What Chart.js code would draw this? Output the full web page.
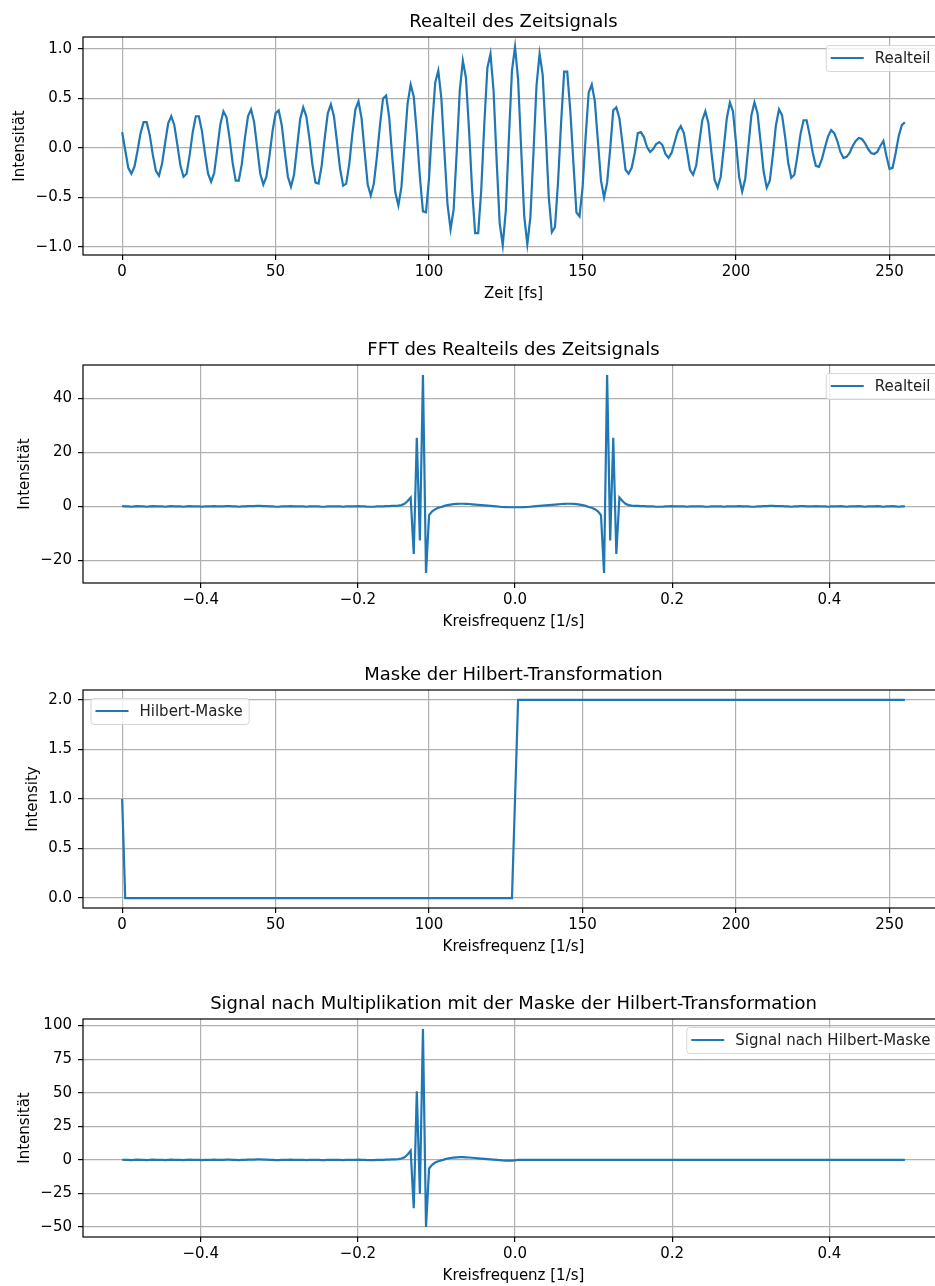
<!doctype html>
<html lang="de">
<head>
<meta charset="utf-8">
<title>Hilbert-Transformation</title>
<style>
  html, body { margin: 0; padding: 0; background: #fff; }
  #blatt { position: relative; width: 935px; height: 1286px; overflow: hidden; }
  #blatt canvas { position: absolute; left: 0; }
</style>
</head>
<body>
<div id="blatt">
  <canvas id="zeit" width="950" height="303" style="top:0px"></canvas>
  <canvas id="fft" width="950" height="303" style="top:328px"></canvas>
  <canvas id="maske" width="950" height="303" style="top:653px"></canvas>
  <canvas id="signal" width="950" height="303" style="top:982px"></canvas>
</div>

<script src="https://cdn.jsdelivr.net/npm/chart.js/dist/chart.umd.min.js"></script>
<script>
// Realteil des Zeitsignals, Abtastwerte 0..255
const realteil = [
  0.16, -0.02, -0.20, -0.26, -0.19, -0.03, 0.15, 0.26, 0.26, 0.13, -0.07, -0.23, -0.28, -0.16, 0.05, 0.25,
  0.32, 0.23, 0.03, -0.18, -0.29, -0.26, -0.07, 0.16, 0.32, 0.32, 0.17, -0.06, -0.26, -0.34, -0.25, -0.01,
  0.24, 0.37, 0.31, 0.10, -0.15, -0.33, -0.33, -0.16, 0.10, 0.32, 0.39, 0.26, 0.00, -0.26, -0.37, -0.29,
  -0.08, 0.17, 0.35, 0.38, 0.23, -0.04, -0.29, -0.39, -0.27, 0.01, 0.29, 0.41, 0.32, 0.10, -0.17, -0.35,
  -0.36, -0.18, 0.10, 0.35, 0.44, 0.32, 0.06, -0.21, -0.38, -0.36, -0.16, 0.14, 0.39, 0.47, 0.30, -0.04,
  -0.37, -0.48, -0.36, -0.09, 0.23, 0.50, 0.53, 0.31, -0.09, -0.45, -0.58, -0.39, 0.03, 0.45, 0.64, 0.52,
  0.15, -0.29, -0.64, -0.65, -0.30, 0.23, 0.66, 0.78, 0.50, -0.04, -0.57, -0.82, -0.62, -0.04, 0.58, 0.88,
  0.71, 0.19, -0.41, -0.86, -0.86, -0.42, 0.25, 0.81, 0.95, 0.58, -0.12, -0.76, -0.98, -0.63, 0.10, 0.78,
  1.02, 0.69, -0.01, -0.69, -0.97, -0.70, -0.05, 0.63, 0.95, 0.74, 0.15, -0.50, -0.85, -0.80, -0.35, 0.25,
  0.77, 0.77, 0.38, -0.14, -0.65, -0.69, -0.40, 0.11, 0.56, 0.64, 0.47, 0.07, -0.33, -0.50, -0.35, -0.01,
  0.38, 0.41, 0.30, 0.05, -0.22, -0.26, -0.20, -0.05, 0.15, 0.16, 0.11, 0.01, -0.04, -0.01, 0.04, 0.06,
  0.03, -0.06, -0.10, -0.05, 0.06, 0.17, 0.22, 0.15, -0.03, -0.22, -0.27, -0.18, 0.05, 0.28, 0.37, 0.25,
  -0.05, -0.32, -0.40, -0.29, 0.00, 0.30, 0.46, 0.37, 0.05, -0.29, -0.44, -0.31, 0.01, 0.33, 0.46, 0.35,
  0.06, -0.24, -0.40, -0.33, -0.07, 0.23, 0.39, 0.33, 0.11, -0.15, -0.30, -0.27, -0.08, 0.14, 0.28, 0.28,
  0.13, -0.05, -0.18, -0.19, -0.11, 0.01, 0.12, 0.18, 0.15, 0.07, -0.04, -0.10, -0.09, -0.05, 0.02, 0.07,
  0.10, 0.09, 0.05, -0.01, -0.05, -0.06, -0.04, 0.02, 0.07, -0.08, -0.21, -0.20, -0.05, 0.12, 0.23, 0.26
];

// Realteil der FFT, Frequenzen -0.5 .. 0.496 (k = -128 .. 127)
const fftReal = [
  // k = -128 .. -100
  0.1, 0.0, 0.0, -0.1, 0.0, 0.1, 0.0, 0.0, -0.1, 0.0, 0.1, 0.0, 0.0, 0.0, -0.1, 0.0, 0.1, 0.0, 0.0, 0.0,
  -0.1, 0.0, 0.1, 0.0, 0.0, 0.0, -0.1, 0.0, 0.0,
  // k = -99 .. -70
  0.0, 0.1, 0.0, 0.0, 0.0, 0.1, 0.1, 0.0, 0.0, -0.1, 0.0, 0.0, 0.1, 0.1, 0.1, 0.2, 0.2, 0.1, 0.1, 0.0,
  0.0, -0.1, -0.1, 0.0, 0.0, 0.0, 0.1, 0.0, 0.0, 0.0,
  // k = -69 .. -38
  0.0, -0.1, 0.0, 0.0, 0.0, 0.0, -0.1, -0.1, 0.0, 0.0, 0.0, 0.0, 0.0, -0.1, 0.0, 0.0, 0.0, 0.0, 0.1, 0.0,
  0.0, -0.1, -0.1, -0.1, 0.0, 0.0, 0.0, 0.1, 0.1, 0.2, 0.2, 0.3,
  // k = -37 .. -1
  0.5, 1.0, 2.0, 3.3, -17.6, 25.4, -12.6, 48.6, -24.6, -3.2, -1.8, -1.0, -0.5, -0.2, 0.2, 0.5, 0.7, 0.85, 0.95, 1.0,
  1.0, 0.95, 0.9, 0.8, 0.7, 0.6, 0.5, 0.4, 0.3, 0.2, 0.1, 0.0, -0.1, -0.2, -0.25, -0.3, -0.3,
  // k = 0
  -0.3,
  // k = 1 .. 37
  -0.3, -0.3, -0.25, -0.2, -0.1, 0.0, 0.1, 0.2, 0.3, 0.4, 0.5, 0.6, 0.7, 0.8, 0.9, 0.95, 1.0, 1.0, 0.95, 0.85,
  0.7, 0.5, 0.2, -0.2, -0.5, -1.0, -1.8, -3.2, -24.6, 48.6, -12.6, 25.4, -17.6, 3.3, 2.0, 1.0, 0.5,
  // k = 38 .. 69
  0.3, 0.2, 0.2, 0.1, 0.1, 0.0, 0.0, 0.0, -0.1, -0.1, -0.1, 0.0, 0.0, 0.1, 0.0, 0.0, 0.0, 0.0, -0.1, 0.0,
  0.0, 0.0, 0.0, 0.0, -0.1, -0.1, 0.0, 0.0, 0.0, 0.0, -0.1, 0.0,
  // k = 70 .. 99
  0.0, 0.0, 0.0, 0.1, 0.0, 0.0, 0.0, -0.1, -0.1, 0.0, 0.0, 0.1, 0.1, 0.2, 0.2, 0.1, 0.1, 0.1, 0.0, 0.0,
  -0.1, 0.0, 0.0, 0.1, 0.1, 0.0, 0.0, 0.0, 0.1, 0.0,
  // k = 100 .. 127
  0.0, 0.0, -0.1, 0.0, 0.0, 0.0, 0.1, 0.0, -0.1, 0.0, 0.0, 0.0, 0.1, 0.0, -0.1, 0.0, 0.0, 0.0, 0.1, 0.0,
  -0.1, 0.0, 0.0, 0.1, 0.0, -0.1, 0.0, 0.0
];

// Maske der Hilbert-Transformation, Index 0..255
const hilbertMaske = [
  1, 0, 0, 0, 0, 0, 0, 0, 0, 0, 0, 0, 0, 0, 0, 0,
  0, 0, 0, 0, 0, 0, 0, 0, 0, 0, 0, 0, 0, 0, 0, 0,
  0, 0, 0, 0, 0, 0, 0, 0, 0, 0, 0, 0, 0, 0, 0, 0,
  0, 0, 0, 0, 0, 0, 0, 0, 0, 0, 0, 0, 0, 0, 0, 0,
  0, 0, 0, 0, 0, 0, 0, 0, 0, 0, 0, 0, 0, 0, 0, 0,
  0, 0, 0, 0, 0, 0, 0, 0, 0, 0, 0, 0, 0, 0, 0, 0,
  0, 0, 0, 0, 0, 0, 0, 0, 0, 0, 0, 0, 0, 0, 0, 0,
  0, 0, 0, 0, 0, 0, 0, 0, 0, 0, 0, 0, 0, 0, 0, 0,
  1, 2, 2, 2, 2, 2, 2, 2, 2, 2, 2, 2, 2, 2, 2, 2,
  2, 2, 2, 2, 2, 2, 2, 2, 2, 2, 2, 2, 2, 2, 2, 2,
  2, 2, 2, 2, 2, 2, 2, 2, 2, 2, 2, 2, 2, 2, 2, 2,
  2, 2, 2, 2, 2, 2, 2, 2, 2, 2, 2, 2, 2, 2, 2, 2,
  2, 2, 2, 2, 2, 2, 2, 2, 2, 2, 2, 2, 2, 2, 2, 2,
  2, 2, 2, 2, 2, 2, 2, 2, 2, 2, 2, 2, 2, 2, 2, 2,
  2, 2, 2, 2, 2, 2, 2, 2, 2, 2, 2, 2, 2, 2, 2, 2,
  2, 2, 2, 2, 2, 2, 2, 2, 2, 2, 2, 2, 2, 2, 2, 2
];

// Signal nach Multiplikation mit der Maske, k = -128 .. 127
const signalMaske = [
  // k = -128 .. -100
  0.1, 0.0, 0.0, -0.2, 0.0, 0.2, 0.0, 0.0, -0.2, 0.0, 0.2, 0.0, 0.0, 0.0, -0.2, 0.0, 0.2, 0.0, 0.0, 0.0,
  -0.2, 0.0, 0.2, 0.0, 0.0, 0.0, -0.2, 0.0, 0.0,
  // k = -99 .. -70
  0.0, 0.2, 0.0, 0.0, 0.0, 0.2, 0.2, 0.0, 0.0, -0.2, 0.0, 0.0, 0.2, 0.2, 0.2, 0.4, 0.4, 0.2, 0.2, 0.0,
  0.0, -0.2, -0.2, 0.0, 0.0, 0.0, 0.2, 0.0, 0.0, 0.0,
  // k = -69 .. -38
  0.0, -0.2, 0.0, 0.0, 0.0, 0.0, -0.2, -0.2, 0.0, 0.0, 0.0, 0.0, 0.0, -0.2, 0.0, 0.0, 0.0, 0.0, 0.2, 0.0,
  0.0, -0.2, -0.2, -0.2, 0.0, 0.0, 0.0, 0.2, 0.2, 0.4, 0.4, 0.6,
  // k = -37 .. -1
  1.0, 2.0, 4.0, 6.8, -36.0, 51.0, -25.2, 97.5, -50.0, -6.4, -3.6, -2.0, -1.0, -0.4, 0.4, 1.0, 1.4, 1.7, 1.9, 2.0,
  2.0, 1.9, 1.8, 1.6, 1.4, 1.2, 1.0, 0.8, 0.6, 0.4, 0.2, 0.0, -0.2, -0.4, -0.5, -0.6, -0.6,
  // k = 0
  -0.3,
  // k = 1 .. 127
  0, 0, 0, 0, 0, 0, 0, 0, 0, 0, 0, 0, 0, 0, 0, 0,
  0, 0, 0, 0, 0, 0, 0, 0, 0, 0, 0, 0, 0, 0, 0, 0,
  0, 0, 0, 0, 0, 0, 0, 0, 0, 0, 0, 0, 0, 0, 0, 0,
  0, 0, 0, 0, 0, 0, 0, 0, 0, 0, 0, 0, 0, 0, 0, 0,
  0, 0, 0, 0, 0, 0, 0, 0, 0, 0, 0, 0, 0, 0, 0, 0,
  0, 0, 0, 0, 0, 0, 0, 0, 0, 0, 0, 0, 0, 0, 0, 0,
  0, 0, 0, 0, 0, 0, 0, 0, 0, 0, 0, 0, 0, 0, 0, 0,
  0, 0, 0, 0, 0, 0, 0, 0, 0, 0, 0, 0, 0, 0, 0
];

// Tick-Werte
const xTicksIndex = [0, 50, 100, 150, 200, 250];
const xTicksFreq = [-0.4, -0.2, 0.0, 0.2, 0.4];
const yTicksZeit = [-1.0, -0.5, 0.0, 0.5, 1.0];
const yTicksFft = [-20, 0, 20, 40];
const yTicksMaske = [0.0, 0.5, 1.0, 1.5, 2.0];
const yTicksSignal = [-50, -25, 0, 25, 50, 75, 100];

// x-Achsen: Abtastindex und Frequenz (fftshift-Reihenfolge)
const abtastIndex = realteil.map((_, i) => i);
const frequenz = fftReal.map((_, i) => (i - 128) / 256);

const linienFarbe = '#1f77b4';
Chart.defaults.font.family = '"DejaVu Sans", sans-serif';
Chart.defaults.font.size = 15;
Chart.defaults.color = '#000';

function fmt(v, digits) {
  const s = Math.abs(v).toFixed(digits);
  return (v < 0 ? '\u2212' : '') + s;
}

// Titel, Rahmen und Legende im Matplotlib-Stil
const panelDeco = {
  id: 'panelDeco',
  afterDatasetsDraw(chart, args, opts) {
    const { ctx, chartArea: a } = chart;
    ctx.save();
    ctx.strokeStyle = '#000';
    ctx.lineWidth = 1.2;
    ctx.strokeRect(a.left, a.top, a.right - a.left, a.bottom - a.top);

    ctx.fillStyle = '#000';
    ctx.font = '18px "DejaVu Sans"';
    ctx.textAlign = 'center';
    ctx.textBaseline = 'alphabetic';
    ctx.fillText(opts.title, (a.left + a.right) / 2, a.top - 10);

    ctx.font = '15px "DejaVu Sans"';
    const tw = ctx.measureText(opts.legend).width;
    const bw = 49 + tw + 6, bh = 26;
    const bx = opts.loc === 'upper left' ? a.left + 7.5 : a.right - 7.5 - bw;
    const by = a.top + 8;
    ctx.beginPath();
    ctx.roundRect(bx + 0.5, by + 0.5, bw, bh, 3);
    ctx.fillStyle = 'rgba(255,255,255,0.8)';
    ctx.fill();
    ctx.strokeStyle = 'rgba(204,204,204,0.8)';
    ctx.lineWidth = 1;
    ctx.stroke();

    const cy = by + bh / 2;
    ctx.beginPath();
    ctx.moveTo(bx + 5, cy);
    ctx.lineTo(bx + 38, cy);
    ctx.strokeStyle = linienFarbe;
    ctx.lineWidth = 2.2;
    ctx.stroke();

    ctx.fillStyle = '#222';
    ctx.textAlign = 'left';
    ctx.textBaseline = 'middle';
    ctx.fillText(opts.legend, bx + 49, cy + 1);
    ctx.restore();
  }
};

function makePanel(id, xs, ys, p) {
  const punkte = xs.map((x, i) => ({ x: x, y: ys[i] }));
  return new Chart(document.getElementById(id), {
    type: 'line',
    data: {
      datasets: [{
        label: p.legend,
        data: punkte,
        borderColor: linienFarbe,
        borderWidth: 2.2,
        pointRadius: 0,
        tension: 0,
        fill: false
      }]
    },
    options: {
      responsive: false,
      animation: false,
      layout: { padding: { left: 0, right: 6, top: 37, bottom: 0 } },
      plugins: {
        legend: { display: false },
        tooltip: { enabled: false },
        panelDeco: { title: p.title, legend: p.legend, loc: p.loc }
      },
      scales: {
        x: {
          type: 'linear',
          min: p.xMin,
          max: p.xMax,
          afterBuildTicks: s => { s.ticks = p.xTicks.map(v => ({ value: v })); },
          afterFit: s => { s.height = 48; s.paddingLeft = 0; s.paddingRight = 0; },
          ticks: { callback: v => fmt(v, p.xDigits), padding: 3, autoSkip: false, maxRotation: 0, color: '#000' },
          grid: { color: '#b0b0b0', lineWidth: 1.2, tickLength: 5, tickColor: '#000' },
          border: { display: false },
          title: { display: true, text: p.xLabel, color: '#000', padding: 0 }
        },
        y: {
          type: 'linear',
          min: p.yMin,
          max: p.yMax,
          afterBuildTicks: s => { s.ticks = p.yTicks.map(v => ({ value: v })); },
          afterFit: s => { s.width = 83; s.paddingTop = 0; s.paddingBottom = 0; },
          ticks: { callback: v => fmt(v, p.yDigits), padding: 6, color: '#000' },
          grid: { color: '#b0b0b0', lineWidth: 1.2, tickLength: 5, tickColor: '#000' },
          border: { display: false },
          title: { display: true, text: p.yLabel, color: '#000', padding: { top: p.yPad, bottom: 0 } }
        }
      }
    },
    plugins: [panelDeco]
  });
}

makePanel('zeit', abtastIndex, realteil, {
  title: 'Realteil des Zeitsignals', legend: 'Realteil', loc: 'upper right',
  xLabel: 'Zeit [fs]', yLabel: 'Intensität', yPad: 11,
  xMin: -12.75, xMax: 267.75, xTicks: xTicksIndex, xDigits: 0,
  yMin: -1.08, yMax: 1.12, yTicks: yTicksZeit, yDigits: 1
});

makePanel('fft', frequenz, fftReal, {
  title: 'FFT des Realteils des Zeitsignals', legend: 'Realteil', loc: 'upper right',
  xLabel: 'Kreisfrequenz [1/s]', yLabel: 'Intensität', yPad: 16,
  xMin: -0.5498, xMax: 0.5459, xTicks: xTicksFreq, xDigits: 1,
  yMin: -28.3, yMax: 52.3, yTicks: yTicksFft, yDigits: 0
});

makePanel('maske', abtastIndex, hilbertMaske, {
  title: 'Maske der Hilbert-Transformation', legend: 'Hilbert-Maske', loc: 'upper left',
  xLabel: 'Kreisfrequenz [1/s]', yLabel: 'Intensity', yPad: 24,
  xMin: -12.75, xMax: 267.75, xTicks: xTicksIndex, xDigits: 0,
  yMin: -0.1, yMax: 2.1, yTicks: yTicksMaske, yDigits: 1
});

makePanel('signal', frequenz, signalMaske, {
  title: 'Signal nach Multiplikation mit der Maske der Hilbert-Transformation', legend: 'Signal nach Hilbert-Maske', loc: 'upper right',
  xLabel: 'Kreisfrequenz [1/s]', yLabel: 'Intensität', yPad: 16,
  xMin: -0.5498, xMax: 0.5459, xTicks: xTicksFreq, xDigits: 1,
  yMin: -57.4, yMax: 104.9, yTicks: yTicksSignal, yDigits: 0
});
</script>
</body>
</html>
